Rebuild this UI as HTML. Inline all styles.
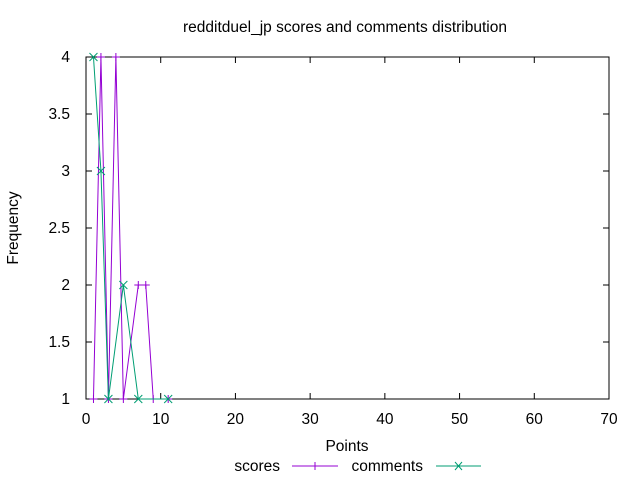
<!DOCTYPE html>
<html><head><meta charset="utf-8"><style>
body{margin:0;background:#fff;}
svg{display:block;font-family:"Liberation Sans",sans-serif;font-size:15.5px;}
</style></head><body>
<svg id="chart" width="640" height="480">
<text x="345" y="32" text-anchor="middle">redditduel_jp scores and comments distribution</text>
<text x="347" y="451" text-anchor="middle">Points</text>
<text transform="translate(18,228) rotate(-90)" text-anchor="middle">Frequency</text>
<g id="axes"></g>
<g id="series"></g>
<g>
<text x="280" y="471" text-anchor="end">scores</text>
<line x1="292" y1="466" x2="338" y2="466" stroke="#9400d3"/>
<line x1="315" y1="462" x2="315" y2="470" stroke="#9400d3"/>
<text x="423" y="471" text-anchor="end">comments</text>
<line x1="436" y1="466" x2="481" y2="466" stroke="#009e73"/>
<path d="M455,462L462,470M455,470L462,462" stroke="#009e73"/>
</g>
</svg>
<script>
const xTicks=[0,10,20,30,40,50,60,70];
const yTicks=[1,1.5,2,2.5,3,3.5,4];
const scoresX=[1,2,3,4,5,7,8,9,11];
const scoresY=[1,4,1,4,1,2,2,1,1];
const commentsX=[1,2,3,5,7,11];
const commentsY=[4,3,1,2,1,1];
const X0=86,X1=609,Y0=399,Y1=57;
const sx=v=>X0+(v-0)/(70-0)*(X1-X0);
const sy=v=>Y0-(v-1)/(4-1)*(Y0-Y1);
const NS="http://www.w3.org/2000/svg";
const ax=document.getElementById('axes'),se=document.getElementById('series');
function mk(tag,attrs,parent){const e=document.createElementNS(NS,tag);for(const k in attrs)e.setAttribute(k,attrs[k]);parent.appendChild(e);return e;}
const fr=mk('rect',{x:X0,y:Y1,width:X1-X0,height:Y0-Y1,fill:'none',stroke:'#000'},ax);


xTicks.forEach(t=>{const x=sx(t);
const l=mk('path',{d:`M${x},${Y0}v-6M${x},${Y1}v6`,stroke:'#000'},ax);


const tx=mk('text',{x:x,y:Y0+25,'text-anchor':'middle'},ax);tx.textContent=t;

});
yTicks.forEach(t=>{const y=sy(t);
const l=mk('path',{d:`M${X0},${y}h6M${X1},${y}h-6`,stroke:'#000'},ax);


const tx=mk('text',{x:X0-16,y:y+5,'text-anchor':'end'},ax);tx.textContent=t;

});
function series(xs,ys,col,name,plus){
const p=mk('polyline',{points:xs.map((x,i)=>sx(x)+','+sy(ys[i])).join(' '),fill:'none',stroke:col},se);


xs.forEach((x,i)=>{const cx=sx(x),cy=sy(ys[i]);
const d=plus?`M${cx-4},${cy}h8M${cx},${cy-4}v8`:`M${cx-4},${cy-4}l8,8M${cx-4},${cy+4}l8,-8`;
const m=mk('path',{d:d,stroke:col},se);

});}
series(scoresX,scoresY,'#9400d3','scores',true);
series(commentsX,commentsY,'#009e73','comments',false);
</script>
</body></html>
